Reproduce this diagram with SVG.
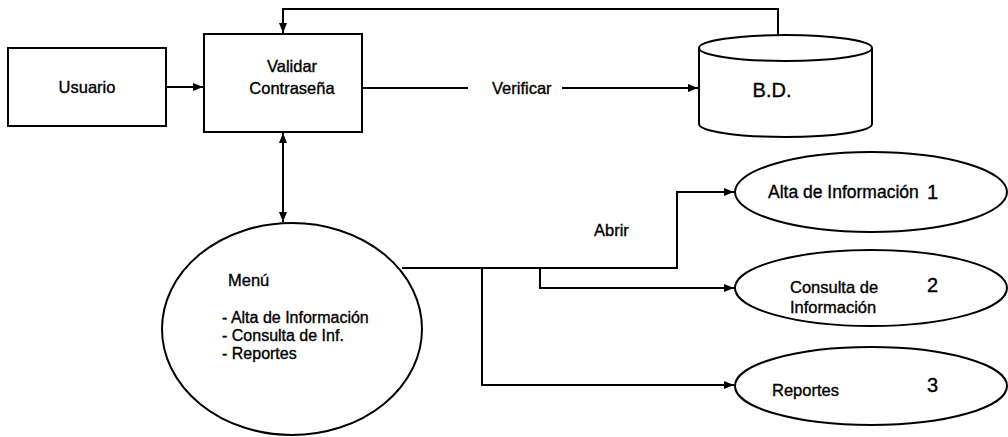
<svg xmlns="http://www.w3.org/2000/svg" width="1008" height="437" viewBox="0 0 1008 437">
<style>
.s{fill:#fff;stroke:#000;stroke-width:2}
.c{fill:none;stroke:#000;stroke-width:2}
text{font-family:"Liberation Sans",Arial,sans-serif;font-size:16.5px;fill:#000;stroke:#000;stroke-width:0.35}
.w{font-size:17.5px}
.m{font-size:16px}
.n{font-size:20px}
.bd{font-size:20px}
</style>
<defs>
<marker id="a" viewBox="0 0 10 10" refX="10" refY="5" markerWidth="10" markerHeight="10" markerUnits="userSpaceOnUse" orient="auto-start-reverse">
<path d="M0,1 L10,5 L0,9 Z" fill="#000"/>
</marker>
</defs>
<rect width="1008" height="437" fill="#fff"/>
<g id="connectors">
<path class="c" d="M166,87 L203,87" marker-end="url(#a)"/>
<path class="c" d="M778,35 L778,9 L283,9 L283,33" marker-end="url(#a)"/>
<path class="c" d="M362,88 L468,88"/>
<path class="c" d="M562,88 L698,88" marker-end="url(#a)"/>
<path class="c" d="M283,133 L283,222" marker-start="url(#a)" marker-end="url(#a)"/>
<path class="c" d="M402,268 L677,268 L677,192 L734,192" marker-end="url(#a)"/>
<path class="c" d="M540,268 L540,288 L734,288" marker-end="url(#a)"/>
<path class="c" d="M482,268 L482,385 L734,385" marker-end="url(#a)"/>
<text x="492" y="94">Verificar</text>
<text x="594" y="236">Abrir</text>
</g>
<g id="usuario">
<rect class="s" x="8" y="48" width="158" height="78"/>
<text x="87" y="93" text-anchor="middle">Usuario</text>
</g>
<g id="validar">
<rect class="s" x="204" y="34" width="158" height="98"/>
<text x="292" y="72" text-anchor="middle">Validar</text>
<text x="292" y="94" text-anchor="middle">Contraseña</text>
</g>
<g id="bd">
<path class="s" d="M699,48 L699,124 A86.5,13 0 0 0 872,124 L872,48"/>
<ellipse class="s" cx="785.5" cy="48" rx="86.5" ry="13"/>
<text class="bd" x="772" y="97" text-anchor="middle">B.D.</text>
</g>
<g id="menu">
<ellipse class="s" cx="292" cy="329" rx="130" ry="106"/>
<text x="228" y="286">Menú</text>
<text class="m" x="222" y="323">- Alta de Información</text>
<text class="m" x="222" y="341">- Consulta de Inf.</text>
<text class="m" x="222" y="359">- Reportes</text>
</g>
<g id="alta">
<ellipse class="s" cx="871" cy="192" rx="136" ry="40"/>
<text class="w" x="768" y="198">Alta de Información</text>
<text class="n" x="927" y="199">1</text>
</g>
<g id="consulta">
<ellipse class="s" cx="871" cy="288" rx="136" ry="38"/>
<text x="790" y="293">Consulta de</text>
<text x="790" y="313">Información</text>
<text class="n" x="927" y="292">2</text>
</g>
<g id="reportes">
<ellipse class="s" cx="871" cy="386" rx="136" ry="39"/>
<text x="772" y="396">Reportes</text>
<text class="n" x="927" y="392">3</text>
</g>
</svg>
